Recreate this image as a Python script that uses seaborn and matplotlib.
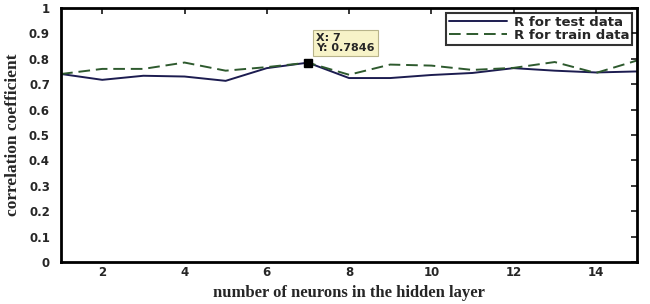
import numpy as np
import pandas as pd
import matplotlib
matplotlib.use("Agg")
import matplotlib.pyplot as plt
import seaborn as sns

# Values
neurons = list(range(1, 16))
r_test = [0.740, 0.717, 0.733, 0.730, 0.713, 0.763, 0.7846, 0.724, 0.724,
          0.736, 0.744, 0.763, 0.753, 0.746, 0.750]
r_train = [0.740, 0.760, 0.760, 0.785, 0.753, 0.767, 0.7846, 0.737, 0.777,
           0.773, 0.756, 0.764, 0.787, 0.744, 0.793]
x_ticks = [2, 4, 6, 8, 10, 12, 14]
y_ticks = [0, 0.1, 0.2, 0.3, 0.4, 0.5, 0.6, 0.7, 0.8, 0.9, 1]
tip_x, tip_y = 7, 0.7846

df = pd.DataFrame({"neurons": neurons, "test": r_test, "train": r_train})

sns.set_style("white")
plt.rcParams["font.family"] = ["DejaVu Sans"]

fig = plt.figure(figsize=(6.5, 3.04), dpi=100)
ax = fig.add_axes([0.094, 0.138, 0.886, 0.836])

sns.lineplot(data=df, x="neurons", y="test", ax=ax, color="#1c1c50",
             linewidth=1.4, label="R for test data")
sns.lineplot(data=df, x="neurons", y="train", ax=ax, color="#2e5a2e",
             linewidth=1.4, linestyle=(0, (6, 3)), label="R for train data")

ax.set_xlim(1, 15)
ax.set_ylim(0, 1)
ax.set_xticks(x_ticks)
ax.set_yticks(y_ticks)
ax.set_yticklabels([("%g" % v) for v in y_ticks])
ax.tick_params(direction="in", length=4.5, width=1.3, top=True, right=True,
               labelsize=8.5)
ax.tick_params(axis="x", pad=3)
ax.tick_params(axis="y", pad=8)
for lbl in ax.get_xticklabels() + ax.get_yticklabels():
    lbl.set_fontweight("bold")
for s in ax.spines.values():
    s.set_linewidth(2)
    s.set_color("black")

ax.set_xlabel("number of neurons in the hidden layer", family="Liberation Serif",
              fontweight="bold", fontsize=12, labelpad=4)
ax.set_ylabel("correlation coefficient", family="Liberation Serif",
              fontweight="bold", fontsize=12.5, labelpad=6)

# data tip
ax.plot([tip_x], [tip_y], marker="s", color="black", markersize=6)
ax.annotate("X: 7\nY: 0.7846", xy=(tip_x, tip_y), xytext=(6, 7),
            textcoords="offset points", fontsize=8, fontweight="bold",
            va="bottom", ha="left", linespacing=1.0,
            bbox=dict(boxstyle="square,pad=0.28", fc="#f7f3c8", ec="#b8b48a", lw=0.8))

leg = ax.legend(loc="upper right", fontsize=9.5, frameon=True, fancybox=False,
                borderaxespad=0.35, handlelength=4.4, borderpad=0.25,
                labelspacing=0.0, handletextpad=0.5)
leg.get_frame().set_edgecolor("black")
leg.get_frame().set_linewidth(1.5)
for t in leg.get_texts():
    t.set_fontweight("bold")

fig.savefig("out.png", dpi=100)
